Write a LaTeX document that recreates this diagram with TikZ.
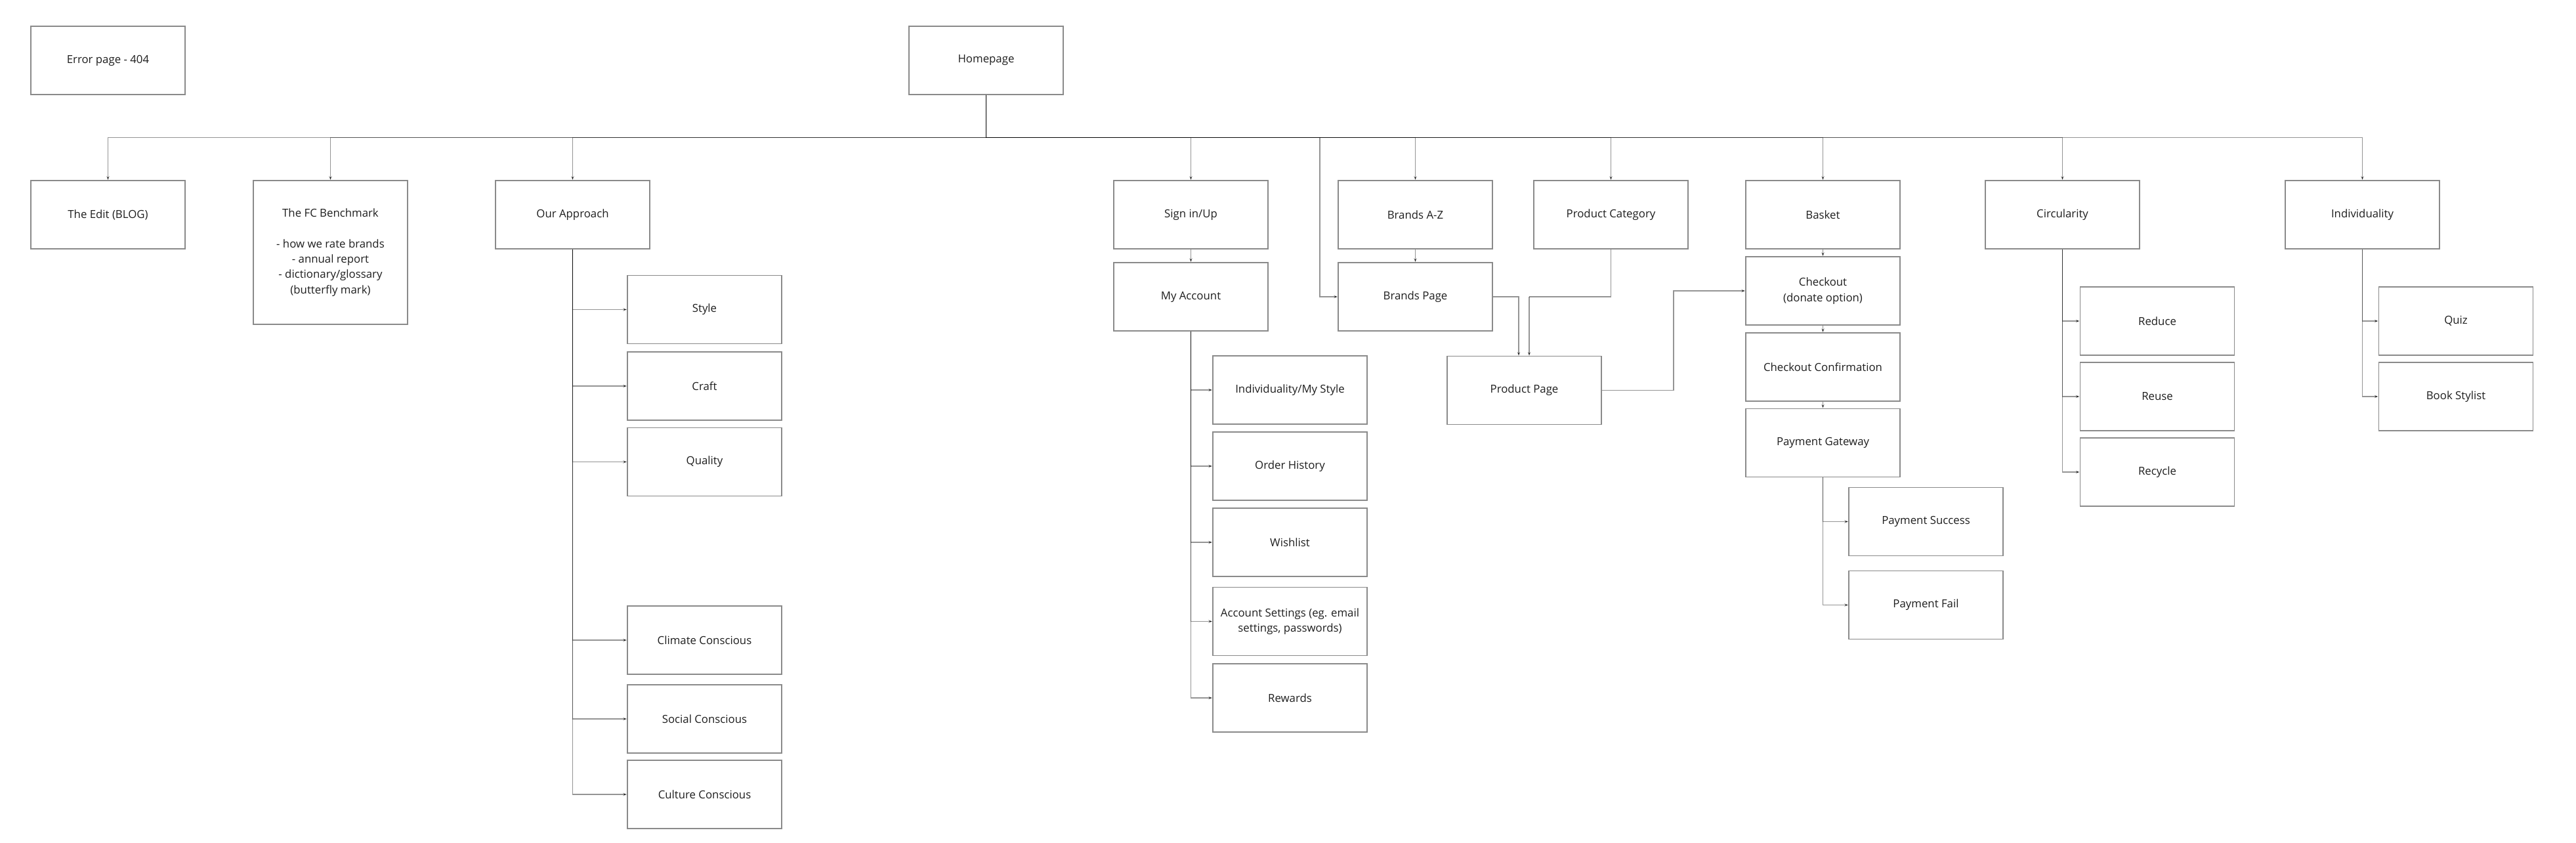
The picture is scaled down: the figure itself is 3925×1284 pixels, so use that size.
\documentclass[tikz,border=0pt]{standalone}
\usepackage{fontspec}
\setmainfont{Open Sans}
\usetikzlibrary{arrows.meta}
\definecolor{boxline}{HTML}{8A8A8A}
\definecolor{txt}{HTML}{1E1E1E}
\tikzset{
  page/.style={draw=boxline, line width=1.6pt, fill=white, minimum width=235pt, minimum height=104pt,
    align=center, inner sep=4pt, text=txt, font=\fontsize{16.8}{23.4}\selectfont},
  edge/.style={draw=black, draw opacity=0.42, line width=1.3pt,
    -{Stealth[length=6pt,width=4.5pt]}},
  link/.style={draw=black, draw opacity=0.42, line width=1.3pt}
}
\begin{document}
\begin{tikzpicture}[x=1pt,y=-1pt]
\useasboundingbox (0,0) rectangle (3925,1284);
% nodes
\node[page] (err) at (164.5,92) {Error page - 404};
\node[page] (home) at (1502.5,92) {Homepage};
\node[page] (edit) at (164.5,327) {The Edit (BLOG)};
\node[page, minimum height=219pt] (fc) at (503.5,384.5) {The FC Benchmark\\[23.4pt]- how we rate brands\\- annual report\\- dictionary/glossary\\(butterfly mark)};
\node[page] (oa) at (872.5,327) {Our Approach};
\node[page] (style) at (1073.5,471.5) {Style};
\node[page] (craft) at (1073.5,588) {Craft};
\node[page] (quality) at (1073.5,703.5) {Quality};
\node[page] (climate) at (1073.5,975) {Climate Conscious};
\node[page] (social) at (1073.5,1095) {Social Conscious};
\node[page] (culture) at (1073.5,1210) {Culture Conscious};
\node[page] (sign) at (1814.5,327) {Sign in/Up};
\node[page] (myacc) at (1814.5,452) {My Account};
\node[page] (ims) at (1965.5,594) {Individuality/My Style};
\node[page] (oh) at (1965.5,710) {Order History};
\node[page] (wish) at (1965.5,826) {Wishlist};
\node[page] (accset) at (1965.5,946.5) {Account Settings (eg. email\\settings, passwords)};
\node[page] (rewards) at (1965.5,1063) {Rewards};
\node[page] (baz) at (2156.5,327) {Brands A-Z};
\node[page] (bpage) at (2156.5,452) {Brands Page};
\node[page] (pcat) at (2454.5,327) {Product Category};
\node[page] (ppage) at (2322.5,594.5) {Product Page};
\node[page] (basket) at (2777.5,327) {Basket};
\node[page] (checkout) at (2777.5,443) {Checkout\\(donate option)};
\node[page] (conf) at (2777.5,559) {Checkout Confirmation};
\node[page] (gw) at (2777.5,674.5) {Payment Gateway};
\node[page] (succ) at (2934.5,794.5) {Payment Success};
\node[page] (fail) at (2934.5,921.5) {Payment Fail};
\node[page] (circ) at (3142.5,327) {Circularity};
\node[page] (reduce) at (3287,489) {Reduce};
\node[page] (reuse) at (3287,604) {Reuse};
\node[page] (recycle) at (3287,719) {Recycle};
\node[page] (indiv) at (3599.5,327) {Individuality};
\node[page] (quiz) at (3742,489) {Quiz};
\node[page] (book) at (3742,604) {Book Stylist};
% helper coordinates
\coordinate (bus) at (0,209.5);
\coordinate (bpturn) at (2011,209.5);
\coordinate (pcturn) at (2330,452);
\coordinate (bpin) at (2314,542);
\coordinate (pcin) at (2330,542);
\coordinate (ppturn) at (2550,443);
% homepage edges
\foreach \c in {edit,fc,oa,sign,baz,pcat,basket,circ,indiv}{
  \draw[edge] (home.south) -- (home.south |- bus) -| (\c.north);
}
\draw[edge] (home.south) -- (home.south |- bus) -- (bpturn) |- (bpage.west);
% our approach
\foreach \c in {style,craft,quality,climate,social,culture}{
  \draw[edge] (oa.south) |- (\c.west);
}
% account
\draw[edge] (sign.south) -- (myacc.north);
\foreach \c in {ims,oh,wish,accset,rewards}{
  \draw[edge] (myacc.south) |- (\c.west);
}
% brands / product
\draw[edge] (baz.south) -- (bpage.north);
\draw[edge] (bpage.east) -| (bpin);
\draw[link] (pcat.south) |- (pcturn);
\draw[edge] (pcturn) -- (pcin);
\draw[edge] (ppage.east) -| (ppturn) |- (checkout.west);
% basket chain
\draw[edge] (basket.south) -- (checkout.north);
\draw[edge] (checkout.south) -- (conf.north);
\draw[edge] (conf.south) -- (gw.north);
\foreach \c in {succ,fail}{
  \draw[edge] (gw.south) |- (\c.west);
}
% circularity / individuality
\foreach \c in {reduce,reuse,recycle}{
  \draw[edge] (circ.south) |- (\c.west);
}
\foreach \c in {quiz,book}{
  \draw[edge] (indiv.south) |- (\c.west);
}
\end{tikzpicture}
\end{document}
